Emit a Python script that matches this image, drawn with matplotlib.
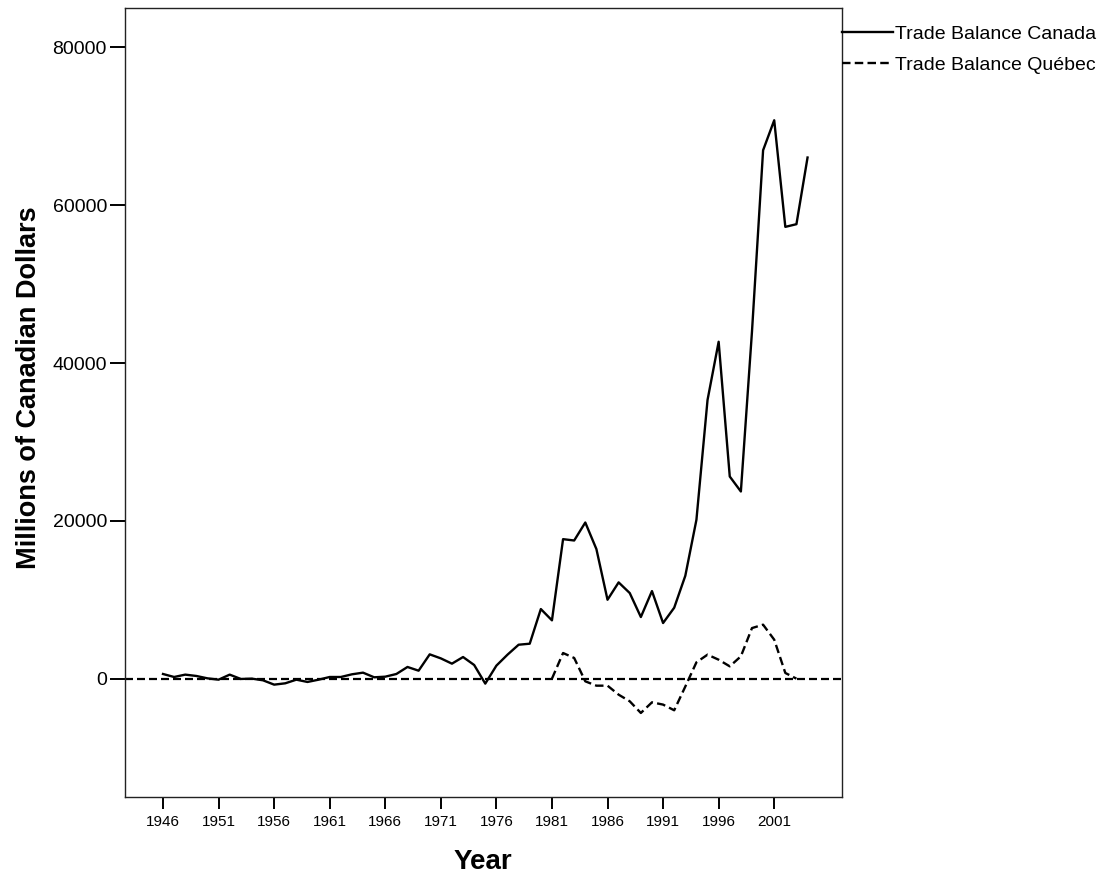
import matplotlib
matplotlib.use("Agg")
import matplotlib.pyplot as plt
from matplotlib import font_manager
from matplotlib.lines import Line2D

# Trade balance, millions of Canadian dollars
years_canada = list(range(1946, 2005))
trade_canada = [
    590, 210, 510, 340, 40, -130, 510, -40, 0, -210,
    -760, -590, -130, -420, -130, 210, 210, 550, 760, 170,
    250, 590, 1480, 1010, 3080, 2570, 1900, 2740, 1730, -630,
    1650, 3040, 4300, 4430, 8820, 7390, 17680, 17510, 19790, 16420,
    10000, 12200, 10850, 7810, 11100, 7050, 8990, 13040, 20130, 35320,
    42700, 25620, 23720, 44000, 66970, 70770, 57260, 57600, 66050,
]

years_quebec = list(range(1981, 2004))
trade_quebec = [
    0, 3250, 2620, -340, -890, -890, -2030, -2870, -4350, -3000,
    -3290, -4010, -1000, 2070, 3040, 2400, 1560, 2830, 6410, 6840,
    4940, 720, 0,
]

year_ticks = list(range(1946, 2002, 5))
value_ticks = [0, 20000, 40000, 60000, 80000]


def pick(families):
    for fam in families:
        try:
            font_manager.findfont(fam, fallback_to_default=False)
            return fam
        except Exception:
            continue
    return "DejaVu Sans"


regular = pick(["Liberation Sans", "Arial", "DejaVu Sans"])

plt.rcParams["font.family"] = [regular, "DejaVu Sans"]

fig = plt.figure(figsize=(11.07, 8.81), dpi=100)
ax = fig.add_axes([125 / 1107, 1 - 797 / 881, (842 - 125) / 1107, (797 - 8) / 881])

dash = (3.6, 1.8)
ax.axhline(0, color="black", lw=1.6, dashes=dash, zorder=1)
ax.plot(years_canada, trade_canada, color="black", lw=1.7, zorder=3)
ax.plot(years_quebec, trade_quebec, color="black", lw=1.7, dashes=dash, zorder=2)

ax.set_xlim(1942.58, 2007.1)
ax.set_ylim(-15000, 85000)
ax.set_xticks(year_ticks)
ax.set_xticklabels([str(y) for y in year_ticks], fontsize=11)
ax.set_yticks(value_ticks)
ax.set_yticklabels([str(v) for v in value_ticks], fontsize=14)
ax.tick_params(axis="x", length=8.6, width=1.4, pad=4, direction="out")
ax.tick_params(axis="y", length=11, width=1.4, pad=2, direction="out")
for sp in ax.spines.values():
    sp.set_linewidth(1.0)
    sp.set_color("#222222")

fig.text(29 / 1107, 1 - 388 / 881, "Millions of Canadian Dollars", rotation=90,
         ha="center", va="center", fontsize=19.5, fontweight="bold")
fig.text(483 / 1107, 1 - 862 / 881, "Year", ha="center", va="center",
         fontsize=20, fontweight="bold")

handles = [
    Line2D([], [], color="black", lw=1.7),
    Line2D([], [], color="black", lw=1.7, dashes=dash),
]
ax.legend(handles, ["Trade Balance Canada", "Trade Balance Québec"],
          loc="upper left", bbox_to_anchor=(1.0, 1 - 17 / 789),
          frameon=False, borderpad=0, borderaxespad=0, handlelength=2.6,
          handletextpad=0.12, labelspacing=0.72, fontsize=14)

fig.savefig("out.png", dpi=100)
